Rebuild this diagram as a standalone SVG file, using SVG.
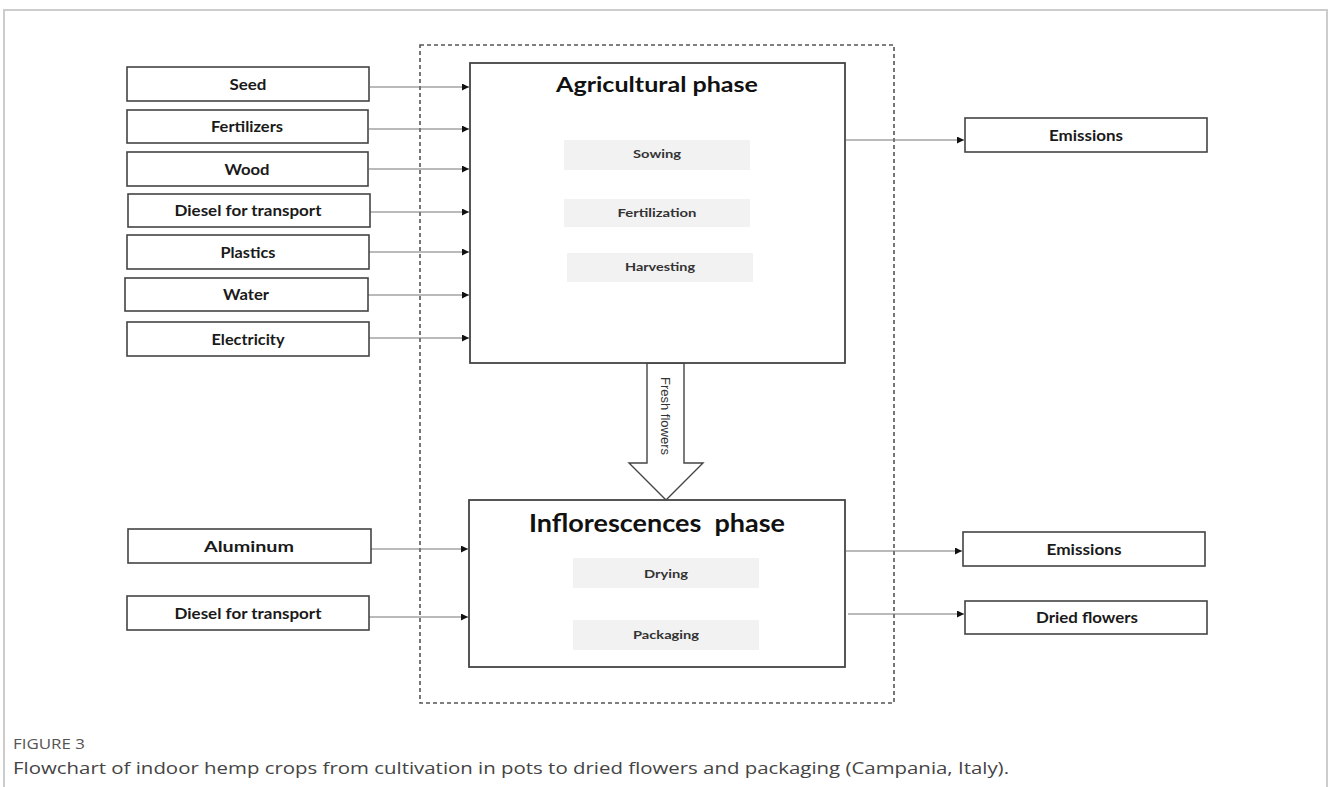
<svg xmlns="http://www.w3.org/2000/svg" width="1328" height="787" viewBox="0 0 1328 787">
<defs>
<marker id="ah" viewBox="0 0 10 10" refX="10" refY="5" markerWidth="7" markerHeight="7" markerUnits="userSpaceOnUse" orient="auto">
<path d="M0,0 L10,5 L0,10 z" fill="#111"/>
</marker>
<style>
.box{fill:#fff;stroke:#444;stroke-width:1.6}
.phase{fill:#fff;stroke:#444;stroke-width:1.8}
.inner{fill:#f2f2f2;stroke:none}
.lbl{font-family:Lato,"Liberation Sans",sans-serif;font-weight:bold;font-size:15px;fill:#1a1a1a;text-anchor:middle}
.ilbl{font-family:Lato,"Liberation Sans",sans-serif;font-weight:bold;font-size:12px;fill:#333;text-anchor:middle}
.ttl{font-family:Lato,"Liberation Sans",sans-serif;font-weight:bold;fill:#111;text-anchor:middle;white-space:pre}
.con{stroke:#777;stroke-width:1.1;fill:none;marker-end:url(#ah)}
</style>
</defs>
<rect width="1328" height="787" fill="#fff"/>
<g id="frame" stroke="#cccccc" stroke-width="2" fill="none">
<path d="M4,787 V10 H1327 V787"/>
</g>
<g id="boundary">
<rect x="420" y="45" width="474" height="658" fill="none" stroke="#555" stroke-width="1.6" stroke-dasharray="4,3"/>
</g>
<g id="connectors">
<line class="con" x1="370" y1="87" x2="469" y2="87"/>
<line class="con" x1="369" y1="129" x2="469" y2="129"/>
<line class="con" x1="369" y1="169" x2="469" y2="169"/>
<line class="con" x1="370" y1="212" x2="469" y2="212"/>
<line class="con" x1="369" y1="252" x2="469" y2="252"/>
<line class="con" x1="368" y1="295" x2="469" y2="295"/>
<line class="con" x1="369" y1="338" x2="469" y2="338"/>
<line class="con" x1="371" y1="549" x2="468" y2="549"/>
<line class="con" x1="369" y1="617" x2="468" y2="617"/>
<line class="con" x1="846" y1="140" x2="964" y2="140"/>
<line class="con" x1="846" y1="551" x2="962" y2="551"/>
<line class="con" x1="848" y1="614" x2="964" y2="614"/>
<g id="fresh-flowers">
<polygon points="647,363 684,363 684,463 703,463 666,500 629,463 647,463" fill="#fff" stroke="#444" stroke-width="1.4"/>
<text transform="translate(661,416) rotate(90)" font-family="'Liberation Sans',Arial,sans-serif" font-size="13" fill="#333" text-anchor="middle">Fresh flowers</text>
</g>
</g>
<g id="seed"><rect class="box" x="127" y="67" width="242" height="34"/><text class="lbl" x="248" y="89.5" textLength="37" lengthAdjust="spacingAndGlyphs">Seed</text></g>
<g id="fertilizers"><rect class="box" x="127" y="110" width="241" height="33"/><text class="lbl" x="247" y="132" textLength="72" lengthAdjust="spacingAndGlyphs">Fertilizers</text></g>
<g id="wood"><rect class="box" x="127" y="152" width="241" height="34"/><text class="lbl" x="247" y="174.5" textLength="45" lengthAdjust="spacingAndGlyphs">Wood</text></g>
<g id="diesel1"><rect class="box" x="128" y="194" width="242" height="33"/><text class="lbl" x="248" y="216" textLength="147" lengthAdjust="spacingAndGlyphs">Diesel for transport</text></g>
<g id="plastics"><rect class="box" x="127" y="235" width="242" height="34"/><text class="lbl" x="248" y="257.5" textLength="55" lengthAdjust="spacingAndGlyphs">Plastics</text></g>
<g id="water"><rect class="box" x="125" y="278" width="243" height="33"/><text class="lbl" x="246" y="300" textLength="46" lengthAdjust="spacingAndGlyphs">Water</text></g>
<g id="electricity"><rect class="box" x="127" y="322" width="242" height="34"/><text class="lbl" x="248" y="344.5" textLength="73" lengthAdjust="spacingAndGlyphs">Electricity</text></g>
<g id="aluminum"><rect class="box" x="128" y="529" width="243" height="34"/><text class="lbl" x="249" y="552" font-size="16" textLength="90" lengthAdjust="spacingAndGlyphs">Aluminum</text></g>
<g id="diesel2"><rect class="box" x="127" y="596" width="242" height="34"/><text class="lbl" x="248" y="618.5" textLength="147" lengthAdjust="spacingAndGlyphs">Diesel for transport</text></g>
<g id="agricultural-phase">
<rect class="phase" x="470" y="63" width="375" height="300"/>
<text class="ttl" x="657" y="92" font-size="21" textLength="202" lengthAdjust="spacingAndGlyphs">Agricultural phase</text>
<rect class="inner" x="564" y="140" width="186" height="30"/><text class="ilbl" x="657" y="158" textLength="48" lengthAdjust="spacingAndGlyphs">Sowing</text>
<rect class="inner" x="564" y="199" width="186" height="28"/><text class="ilbl" x="657" y="217" textLength="79" lengthAdjust="spacingAndGlyphs">Fertilization</text>
<rect class="inner" x="567" y="253" width="186" height="29"/><text class="ilbl" x="660" y="271" textLength="70" lengthAdjust="spacingAndGlyphs">Harvesting</text>
</g>
<g id="inflorescences-phase">
<rect class="phase" x="469" y="500" width="376" height="167"/>
<text class="ttl" x="657" y="532" font-size="24" xml:space="preserve" textLength="256" lengthAdjust="spacingAndGlyphs">Inflorescences  phase</text>
<rect class="inner" x="573" y="558" width="186" height="30"/><text class="ilbl" x="666" y="577.5" textLength="44" lengthAdjust="spacingAndGlyphs">Drying</text>
<rect class="inner" x="573" y="620" width="186" height="30"/><text class="ilbl" x="666" y="639" textLength="66" lengthAdjust="spacingAndGlyphs">Packaging</text>
</g>
<g id="emissions1"><rect class="box" x="965" y="118" width="242" height="34"/><text class="lbl" x="1086" y="140.5" textLength="74" lengthAdjust="spacingAndGlyphs">Emissions</text></g>
<g id="emissions2"><rect class="box" x="963" y="532" width="242" height="34"/><text class="lbl" x="1084" y="554.5" textLength="75" lengthAdjust="spacingAndGlyphs">Emissions</text></g>
<g id="dried-flowers"><rect class="box" x="965" y="601" width="242" height="33"/><text class="lbl" x="1087" y="623" textLength="102" lengthAdjust="spacingAndGlyphs">Dried flowers</text></g>
<g id="caption">
<text x="13" y="749" font-family="'Open Sans','Liberation Sans',sans-serif" font-size="14" fill="#555" textLength="72" lengthAdjust="spacingAndGlyphs">FIGURE 3</text>
<text x="13" y="774" font-family="'Open Sans','Liberation Sans',sans-serif" font-size="16.5" fill="#444" textLength="996" lengthAdjust="spacingAndGlyphs">Flowchart of indoor hemp crops from cultivation in pots to dried flowers and packaging (Campania, Italy).</text>
</g>
</svg>
